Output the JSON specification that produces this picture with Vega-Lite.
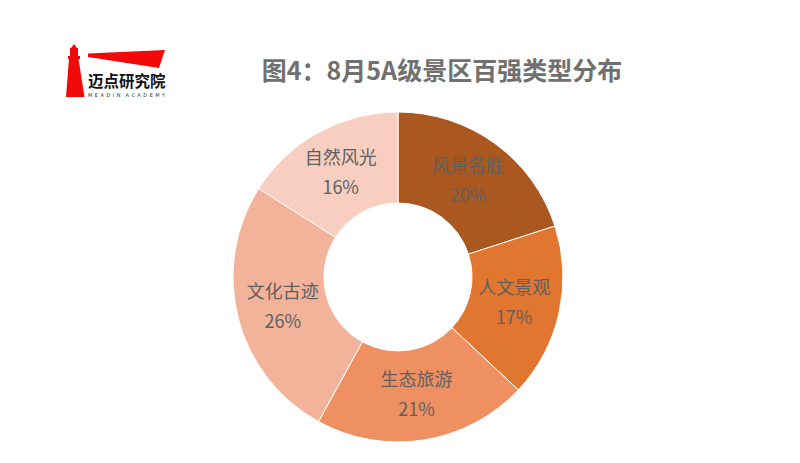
{
  "$schema": "https://vega.github.io/schema/vega-lite/v6.json",
  "background": "white",
  "padding": {"left": 0, "top": 44, "right": 0, "bottom": 0},
  "spacing": 0,
  "config": {"view": {"stroke": null}},
  "hconcat": [
    {
      "width": 231,
      "height": 2,
      "data": {"values": [{"brand": "迈点研究院", "brand_en": "M\u2002E\u2002A\u2002D\u2002I\u2002N\u2002\u2002A\u2002C\u2002A\u2002D\u2002E\u2002M\u2002Y"}]},
      "layer": [
        {
          "mark": {
            "type": "point",
            "filled": true,
            "size": 4,
            "opacity": 1,
            "color": "#f00a0a",
            "strokeWidth": 0,
            "shape": "M-41.5,-52 L-38.5,-48 L-37.5,-48 L-37.5,-40 L-35.5,-40 L-35.5,-37 L-37,-37 L-31,1 L-49.5,1 L-46.5,-37 L-47.5,-37 L-47.5,-40 L-45.5,-40 L-45.5,-48 L-44.5,-48 Z M-27.5,-42.5 L49.5,-46 L43.5,-28 L-27.5,-39 Z"
          },
          "encoding": {}
        },
        {
          "mark": {"type": "text", "align": "left", "baseline": "middle", "dx": -27.5, "dy": -14.5, "fontSize": 15.5, "fontWeight": "bold", "font": "Noto Sans CJK SC", "color": "#111111"},
          "encoding": {"text": {"field": "brand"}}
        },
        {
          "mark": {"type": "text", "align": "left", "baseline": "middle", "dx": -27.5, "dy": -1, "fontSize": 5, "font": "DejaVu Sans", "color": "#333333"},
          "encoding": {"text": {"field": "brand_en"}}
        }
      ]
    },
    {
      "width": 332,
      "height": 364,
      "title": {
        "text": "图4：8月5A级景区百强类型分布",
        "fontSize": 25,
        "fontWeight": "bold",
        "font": "Noto Sans CJK SC",
        "color": "#707070",
        "anchor": "middle",
        "frame": "group",
        "dx": 44,
        "offset": 10
      },
      "data": {
        "values": [
          {"name": "风景名胜", "value": 20, "rank": 1},
          {"name": "人文景观", "value": 17, "rank": 2},
          {"name": "生态旅游", "value": 21, "rank": 3},
          {"name": "文化古迹", "value": 26, "rank": 4},
          {"name": "自然风光", "value": 16, "rank": 5}
        ]
      },
      "transform": [
        {"calculate": "[datum.name, datum.value + '%']", "as": "label"}
      ],
      "encoding": {
        "theta": {"field": "value", "type": "quantitative", "stack": true},
        "order": {"field": "rank", "type": "quantitative"}
      },
      "layer": [
        {
          "mark": {"type": "arc", "outerRadius": 165, "innerRadius": 74, "stroke": "#ffffff", "strokeWidth": 1},
          "encoding": {
            "color": {
              "field": "name",
              "type": "nominal",
              "scale": {
                "domain": ["风景名胜", "人文景观", "生态旅游", "文化古迹", "自然风光"],
                "range": ["#AB5820", "#E0762F", "#EF9063", "#F3B39A", "#F7CEBF"]
              },
              "legend": null
            }
          }
        },
        {
          "mark": {"type": "text", "radius": 119, "dy": -14, "fontSize": 18, "font": "Noto Sans CJK SC", "color": "#606060", "lineHeight": 30, "baseline": "middle", "align": "center"},
          "encoding": {"text": {"field": "label"}}
        }
      ]
    }
  ]
}
